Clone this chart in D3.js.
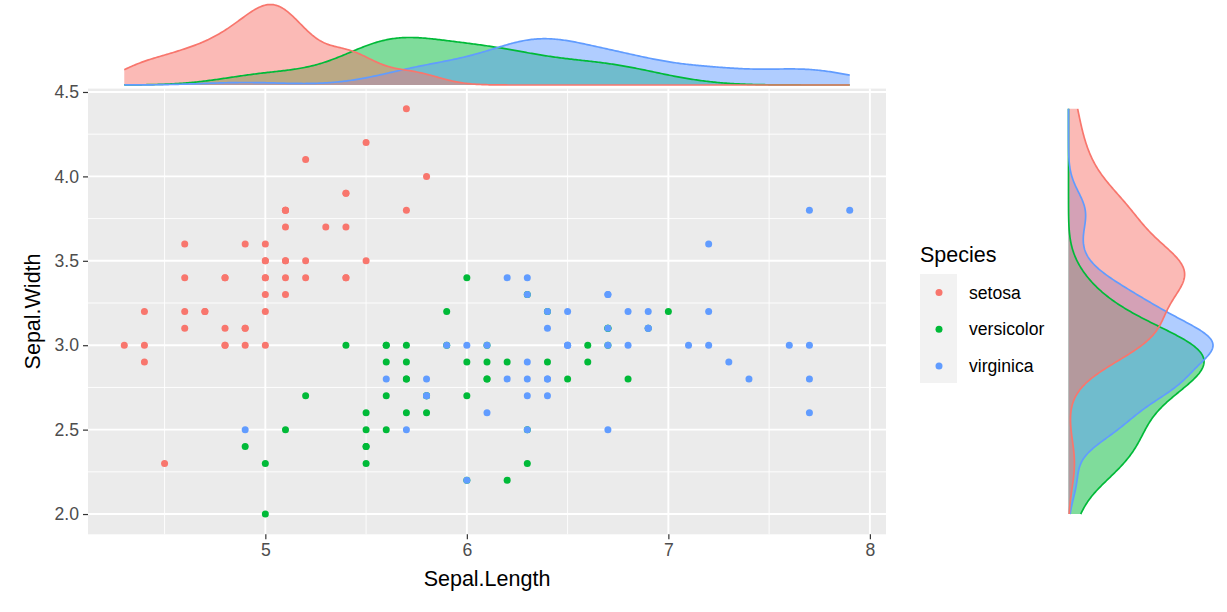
<!DOCTYPE html>
<html><head><meta charset="utf-8">
<script src="https://cdn.jsdelivr.net/npm/d3@7"></script>
<style>body{margin:0;background:#fff}svg{display:block;font-family:"Liberation Sans",Arial,sans-serif}</style>
</head><body><svg id="c" width="1227" height="612"></svg>
<script>
const species = ["setosa","versicolor","virginica"];
const colors = ["#F8766D","#00BA38","#619CFF"];
const sepalLength = {
  setosa:[5.1,4.9,4.7,4.6,5.0,5.4,4.6,5.0,4.4,4.9,5.4,4.8,4.8,4.3,5.8,5.7,5.4,5.1,5.7,5.1,5.4,5.1,4.6,5.1,4.8,5.0,5.0,5.2,5.2,4.7,4.8,5.4,5.2,5.5,4.9,5.0,5.5,4.9,4.4,5.1,5.0,4.5,4.4,5.0,5.1,4.8,5.1,4.6,5.3,5.0],
  versicolor:[7.0,6.4,6.9,5.5,6.5,5.7,6.3,4.9,6.6,5.2,5.0,5.9,6.0,6.1,5.6,6.7,5.6,5.8,6.2,5.6,5.9,6.1,6.3,6.1,6.4,6.6,6.8,6.7,6.0,5.7,5.5,5.5,5.8,6.0,5.4,6.0,6.7,6.3,5.6,5.5,5.5,6.1,5.8,5.0,5.6,5.7,5.7,6.2,5.1,5.7],
  virginica:[6.3,5.8,7.1,6.3,6.5,7.6,4.9,7.3,6.7,7.2,6.5,6.4,6.8,5.7,5.8,6.4,6.5,7.7,7.7,6.0,6.9,5.6,7.7,6.3,6.7,7.2,6.2,6.1,6.4,7.2,7.4,7.9,6.4,6.3,6.1,7.7,6.3,6.4,6.0,6.9,6.7,6.9,5.8,6.8,6.7,6.7,6.3,6.5,6.2,5.9]
};
const sepalWidth = {
  setosa:[3.5,3.0,3.2,3.1,3.6,3.9,3.4,3.4,2.9,3.1,3.7,3.4,3.0,3.0,4.0,4.4,3.9,3.5,3.8,3.8,3.4,3.7,3.6,3.3,3.4,3.0,3.4,3.5,3.4,3.2,3.1,3.4,4.1,4.2,3.1,3.2,3.5,3.6,3.0,3.4,3.5,2.3,3.2,3.5,3.8,3.0,3.8,3.2,3.7,3.3],
  versicolor:[3.2,3.2,3.1,2.3,2.8,2.8,3.3,2.4,2.9,2.7,2.0,3.0,2.2,2.9,2.9,3.1,3.0,2.7,2.2,2.5,3.2,2.8,2.5,2.8,2.9,3.0,2.8,3.0,2.9,2.6,2.4,2.4,2.7,2.7,3.0,3.4,3.1,2.3,3.0,2.5,2.6,3.0,2.6,2.3,2.7,3.0,2.9,2.9,2.5,2.8],
  virginica:[3.3,2.7,3.0,2.9,3.0,3.0,2.5,2.9,2.5,3.6,3.2,2.7,3.0,2.5,2.8,3.2,3.0,3.8,2.6,2.2,3.2,2.8,2.8,2.7,3.3,3.2,2.8,3.0,2.8,3.0,2.8,3.8,2.8,2.8,2.6,3.0,3.4,3.1,3.0,3.1,3.1,3.1,2.7,3.2,3.3,3.0,2.5,3.0,3.4,3.0]
};
const xTicks = [5,6,7,8];
const yTicks = [2.0,2.5,3.0,3.5,4.0,4.5];
const xTickLabels = ["5","6","7","8"];
const yTickLabels = ["2.0","2.5","3.0","3.5","4.0","4.5"];
const densityDrawOrder = [1,2,0]; // versicolor, virginica, setosa (setosa on top)

const svg = d3.select("#c");
const P = {l:88, r:886, t:88.6, b:534.3};
const allL = species.flatMap(s=>sepalLength[s]);
const allW = species.flatMap(s=>sepalWidth[s]);
const lExt = d3.extent(allL), wExt = d3.extent(allW);
const lPad = (lExt[1]-lExt[0])*0.05, wPad = (wExt[1]-wExt[0])*0.05;
const x = d3.scaleLinear().domain([lExt[0]-lPad, lExt[1]+lPad]).range([P.l,P.r]);
const y = d3.scaleLinear().domain([wExt[0]-wPad, wExt[1]+wPad]).range([P.b,P.t]);

// panel
svg.append("rect").attr("x",P.l).attr("y",P.t).attr("width",P.r-P.l).attr("height",P.b-P.t).attr("fill","#EBEBEB");
const xMinor = [4.5,5.5,6.5,7.5], yMinor=[2.25,2.75,3.25,3.75,4.25];
svg.selectAll(".xm").data(xMinor).enter().append("line").attr("x1",d=>x(d)).attr("x2",d=>x(d)).attr("y1",P.t).attr("y2",P.b).attr("stroke","#fff").attr("stroke-width",0.9);
svg.selectAll(".ym").data(yMinor).enter().append("line").attr("y1",d=>y(d)).attr("y2",d=>y(d)).attr("x1",P.l).attr("x2",P.r).attr("stroke","#fff").attr("stroke-width",0.9);
svg.selectAll(".xM").data(xTicks).enter().append("line").attr("x1",d=>x(d)).attr("x2",d=>x(d)).attr("y1",P.t).attr("y2",P.b).attr("stroke","#fff").attr("stroke-width",1.9);
svg.selectAll(".yM").data(yTicks).enter().append("line").attr("y1",d=>y(d)).attr("y2",d=>y(d)).attr("x1",P.l).attr("x2",P.r).attr("stroke","#fff").attr("stroke-width",1.9);

// axes
const xAxis = d3.axisBottom(x).tickValues(xTicks).tickFormat((d,i)=>xTickLabels[i]).tickSize(5).tickPadding(4);
const gx = svg.append("g").attr("transform",`translate(0,${P.b})`).call(xAxis);
gx.select(".domain").remove();
gx.selectAll("line").attr("stroke","#333").attr("stroke-width",1.2);
gx.selectAll("text").attr("fill","#4D4D4D").attr("font-size",17.6).attr("font-family","Liberation Sans, Arial, sans-serif");
const yAxis = d3.axisLeft(y).tickValues(yTicks).tickFormat((d,i)=>yTickLabels[i]).tickSize(5).tickPadding(4);
const gy = svg.append("g").attr("transform",`translate(${P.l},0)`).call(yAxis);
gy.select(".domain").remove();
gy.selectAll("line").attr("stroke","#333").attr("stroke-width",1.2);
gy.selectAll("text").attr("fill","#4D4D4D").attr("font-size",17.6).attr("font-family","Liberation Sans, Arial, sans-serif");

svg.append("text").attr("x",(P.l+P.r)/2).attr("y",586).attr("text-anchor","middle").attr("font-size",21.5).text("Sepal.Length");
svg.append("text").attr("transform",`translate(40,${(P.t+P.b)/2}) rotate(-90)`).attr("text-anchor","middle").attr("font-size",21.5).text("Sepal.Width");

// points
species.forEach((s,i)=>{
  svg.append("g").selectAll("circle").data(sepalLength[s].map((v,j)=>[v,sepalWidth[s][j]])).enter().append("circle")
    .attr("cx",d=>x(d[0])).attr("cy",d=>y(d[1])).attr("r",3.5).attr("fill",colors[i]);
});

// KDE (gaussian, bw.nrd0, 512 points across full data range)
function bwNrd0(v){
  const s = d3.deviation(v), sv = v.slice().sort(d3.ascending);
  const iqr = d3.quantileSorted(sv,0.75)-d3.quantileSorted(sv,0.25);
  let lo = Math.min(s, iqr/1.34); if(!lo) lo = s || Math.abs(v[0]) || 1;
  return 0.9*lo*Math.pow(v.length,-0.2);
}
function kde(v, ext){
  const bw = bwNrd0(v), n = v.length, out=[];
  for(let k=0;k<512;k++){
    const t = ext[0]+(ext[1]-ext[0])*k/511;
    let sum=0; for(const xi of v){const z=(t-xi)/bw; sum+=Math.exp(-0.5*z*z);}
    out.push([t, sum/(n*bw*Math.sqrt(2*Math.PI))]);
  }
  return out;
}
const densL = species.map(s=>kde(sepalLength[s], lExt));
const densW = species.map(s=>kde(sepalWidth[s], wExt));

// top marginal
const maxL = d3.max(densL.flat(), d=>d[1]);
const yTop = d3.scaleLinear().domain([0,maxL]).range([85,4.5]);
const gTopFill = svg.append("g"), gTopLine = svg.append("g");
densityDrawOrder.forEach(i=>{
  const d = densL[i];
  gTopFill.append("path").datum(d).attr("d",d3.area().x(p=>x(p[0])).y0(yTop(0)).y1(p=>yTop(p[1])))
    .attr("fill",colors[i]).attr("fill-opacity",0.5);
  gTopLine.append("path").datum(d).attr("d",d3.line().x(p=>x(p[0])).y(p=>yTop(p[1])))
    .attr("fill","none").attr("stroke",colors[i]).attr("stroke-width",1.7);
});

// right marginal
const maxW = d3.max(densW.flat(), d=>d[1]);
const xRight = d3.scaleLinear().domain([0,maxW]).range([1068.5,1213]);
const gRFill = svg.append("g"), gRLine = svg.append("g");
densityDrawOrder.forEach(i=>{
  const d = densW[i];
  gRFill.append("path").datum(d).attr("d",d3.area().y(p=>y(p[0])).x0(xRight(0)).x1(p=>xRight(p[1])))
    .attr("fill",colors[i]).attr("fill-opacity",0.5);
  gRLine.append("path").datum(d).attr("d",d3.line().y(p=>y(p[0])).x(p=>xRight(p[1])))
    .attr("fill","none").attr("stroke",colors[i]).attr("stroke-width",1.7);
});

// legend
svg.append("text").attr("x",920).attr("y",262).attr("font-size",21.5).text("Species");
svg.append("rect").attr("x",920).attr("y",274).attr("width",37).attr("height",109).attr("fill","#F2F2F2");
species.forEach((s,i)=>{
  const cy = 292.5 + i*36.7;
  svg.append("circle").attr("cx",939).attr("cy",cy).attr("r",3.5).attr("fill",colors[i]);
  svg.append("text").attr("x",969).attr("y",cy+6).attr("font-size",17.6).text(s);
});
</script></body></html>
